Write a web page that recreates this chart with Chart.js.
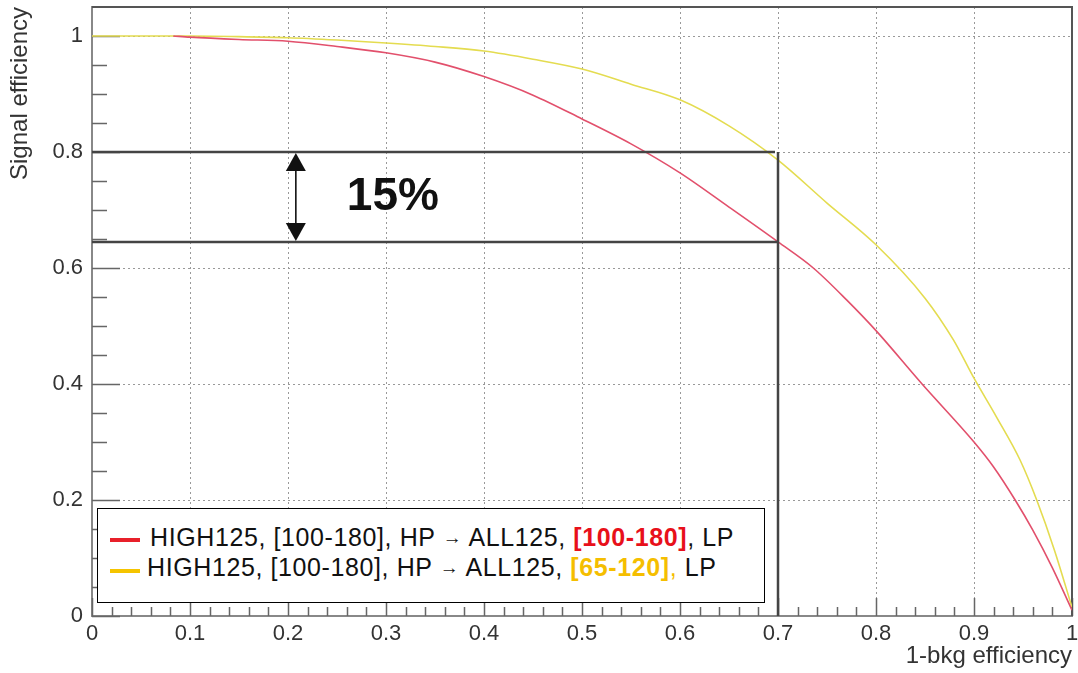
<!DOCTYPE html>
<html>
<head>
<meta charset="utf-8">
<script src="https://cdn.jsdelivr.net/npm/chart.js@4/dist/chart.umd.min.js"></script>
<style>
  html, body { margin: 0; padding: 0; background: #fff; }
  #wrap { position: relative; width: 1078px; height: 673px; font-family: "Liberation Sans", Arial, sans-serif; }
  canvas { position: absolute; left: 0; top: 0; }
  #legend { position: absolute; left: 97px; top: 508px; width: 666px; height: 93px; border: 1px solid #000; background: #fff; }
  .lrow { position: absolute; white-space: nowrap; font-size: 25px; line-height: 28px; color: #111; letter-spacing: 0.6px; }
  .sw { position: absolute; width: 30px; height: 4px; }
  .arr { font-size: 19px; position: relative; top: -2px; }
</style>
</head>
<body>
<div id="wrap">
  <canvas id="c" width="1078" height="673"></canvas>
  <div id="legend"></div>
  <div class="sw" style="left:110px; top:538px; background:#e8202a;"></div>
  <div class="sw" style="left:110px; top:569px; background:#f5c400;"></div>
  <div class="lrow" style="left:150px; top:523px;">HIGH125, [100-180], HP <span class="arr">→</span> ALL125, <b style="color:#e8101a">[100-180]</b>, LP</div>
  <div class="lrow" style="left:147px; top:553px;">HIGH125, [100-180], HP <span class="arr">→</span> ALL125, <b style="color:#f5be00">[65-120]</b><span style="color:#f5be00">,</span> LP</div>
</div>
<script>
// ---- data ----
const redX = [0.083, 0.10, 0.15, 0.20, 0.25, 0.30, 0.35, 0.40, 0.45, 0.50, 0.55, 0.60, 0.65, 0.70, 0.736, 0.77, 0.80, 0.847, 0.90, 0.92, 0.942, 0.96, 0.98, 1.00];
const redY = [1.000, 0.998, 0.994, 0.991, 0.982, 0.971, 0.955, 0.930, 0.898, 0.857, 0.814, 0.764, 0.705, 0.645, 0.600, 0.545, 0.492, 0.400, 0.300, 0.257, 0.200, 0.148, 0.083, 0.010];
const yelX = [0.00, 0.10, 0.15, 0.20, 0.25, 0.30, 0.35, 0.40, 0.45, 0.50, 0.55, 0.60, 0.65, 0.70, 0.75, 0.80, 0.85, 0.879, 0.90, 0.923, 0.947, 0.964, 0.982, 1.00];
const yelY = [1.000, 1.000, 0.999, 0.997, 0.993, 0.988, 0.982, 0.974, 0.960, 0.943, 0.917, 0.890, 0.845, 0.786, 0.712, 0.640, 0.548, 0.476, 0.410, 0.343, 0.269, 0.200, 0.114, 0.015];
const xTicks = [0, 0.1, 0.2, 0.3, 0.4, 0.5, 0.6, 0.7, 0.8, 0.9, 1];
const xTickLabels = ['0', '0.1', '0.2', '0.3', '0.4', '0.5', '0.6', '0.7', '0.8', '0.9', '1'];
const yTicks = [0, 0.2, 0.4, 0.6, 0.8, 1];
const yTickLabels = ['0', '0.2', '0.4', '0.6', '0.8', '1'];
// working point annotation
const wpBkg = 0.7, wpSigHigh = 0.8, wpSigLow = 0.645;
const arrowX = 0.208, labelX = 0.307, annotText = '15%';

const FONT = '"Liberation Sans", Arial, sans-serif';

const frameAndAnnot = {
  id: 'frameAndAnnot',
  beforeDatasetsDraw(chart) {
    const { ctx, chartArea: a, scales: { x, y } } = chart;
    ctx.save();
    ctx.strokeStyle = '#666';
    ctx.lineWidth = 1.5;
    ctx.beginPath();
    for (let i = 0; i <= 20; i++) {
      const v = i * 0.05;
      const py = Math.round(y.getPixelForValue(v)) + 0.5;
      const len = (i % 4 === 0) ? 28 : 15;
      ctx.moveTo(a.left, py); ctx.lineTo(a.left + len, py);
    }
    for (let i = 0; i <= 50; i++) {
      const v = i * 0.02;
      const px = Math.round(x.getPixelForValue(v)) + 0.5;
      const len = (i % 5 === 0) ? 18 : 9;
      ctx.moveTo(px, a.bottom); ctx.lineTo(px, a.bottom - len);
    }
    ctx.stroke();
    ctx.strokeStyle = '#555';
    ctx.lineWidth = 2;
    ctx.beginPath();
    ctx.moveTo(a.left, a.top); ctx.lineTo(a.right, a.top); ctx.lineTo(a.right, a.bottom);
    ctx.stroke();
    ctx.restore();
  },
  afterDatasetsDraw(chart) {
    const { ctx, scales: { x, y } } = chart;
    ctx.save();
    const x0 = x.getPixelForValue(0), xw = x.getPixelForValue(wpBkg);
    const yh = y.getPixelForValue(wpSigHigh), yl = y.getPixelForValue(wpSigLow), y0 = y.getPixelForValue(0);
    ctx.strokeStyle = '#444';
    ctx.lineWidth = 2.5;
    ctx.beginPath();
    ctx.moveTo(x0, yh); ctx.lineTo(xw - 3, yh);
    ctx.moveTo(x0, yl); ctx.lineTo(xw, yl);
    ctx.moveTo(xw, yh); ctx.lineTo(xw, y0);
    ctx.stroke();
    const ax = x.getPixelForValue(arrowX);
    const hh = 19, hw = 10;
    ctx.strokeStyle = '#111'; ctx.fillStyle = '#111'; ctx.lineWidth = 1.6;
    ctx.beginPath(); ctx.moveTo(ax, yh + hh); ctx.lineTo(ax, yl - hh); ctx.stroke();
    ctx.beginPath(); ctx.moveTo(ax, yh + 1); ctx.lineTo(ax - hw, yh + hh); ctx.lineTo(ax + hw, yh + hh); ctx.closePath(); ctx.fill();
    ctx.beginPath(); ctx.moveTo(ax, yl - 1); ctx.lineTo(ax - hw, yl - hh); ctx.lineTo(ax + hw, yl - hh); ctx.closePath(); ctx.fill();
    ctx.font = 'bold 46px ' + FONT;
    ctx.textAlign = 'center';
    ctx.textBaseline = 'middle';
    ctx.fillStyle = '#111';
    ctx.fillText(annotText, x.getPixelForValue(labelX), y.getPixelForValue((wpSigHigh + wpSigLow) / 2));
    ctx.restore();
  }
};

const pts = (xs, ys) => xs.map((v, i) => ({ x: v, y: ys[i] }));

new Chart(document.getElementById('c'), {
  type: 'line',
  data: {
    datasets: [
      { label: 'red', data: pts(redX, redY), borderColor: '#e2506c', borderWidth: 1.6, pointRadius: 0, cubicInterpolationMode: 'monotone', fill: false },
      { label: 'yellow', data: pts(yelX, yelY), borderColor: '#e4dc50', borderWidth: 1.6, pointRadius: 0, cubicInterpolationMode: 'monotone', fill: false }
    ]
  },
  options: {
    responsive: false,
    animation: false,
    events: [],
    layout: { padding: { left: 0, right: 6, top: 7, bottom: 0 } },
    plugins: { legend: { display: false }, tooltip: { enabled: false } },
    scales: {
      x: {
        type: 'linear', min: 0, max: 1,
        afterBuildTicks: s => { s.ticks = xTicks.map(v => ({ value: v })); },
        afterFit: s => { s.height = 57; s.paddingLeft = 0; s.paddingRight = 0; },
        ticks: { autoSkip: false, maxRotation: 0, padding: 5, color: '#333', font: { family: FONT, size: 22 }, callback: (v, i) => xTickLabels[i] },
        grid: { color: '#999', lineWidth: 1, drawTicks: false },
        border: { display: true, color: '#888', width: 2, dash: [2, 3] },
        title: { display: true, text: '1-bkg efficiency', align: 'end', color: '#333', font: { family: FONT, size: 24 }, padding: { top: 0, bottom: 2 } }
      },
      y: {
        type: 'linear', min: 0, max: 1.05,
        afterBuildTicks: s => { s.ticks = yTicks.map(v => ({ value: v })); },
        afterFit: s => { s.width = 92; s.paddingTop = 0; s.paddingBottom = 0; },
        ticks: { autoSkip: false, padding: 9, color: '#333', font: { family: FONT, size: 22 }, callback: (v, i) => yTickLabels[i] },
        grid: { color: '#999', lineWidth: 1, drawTicks: false },
        border: { display: true, color: '#888', width: 2, dash: [2, 3] },
        title: { display: true, text: 'Signal efficiency', align: 'end', color: '#333', font: { family: FONT, size: 24 }, padding: { top: 6, bottom: 0 } }
      }
    }
  },
  plugins: [frameAndAnnot]
});
</script>
</body>
</html>
